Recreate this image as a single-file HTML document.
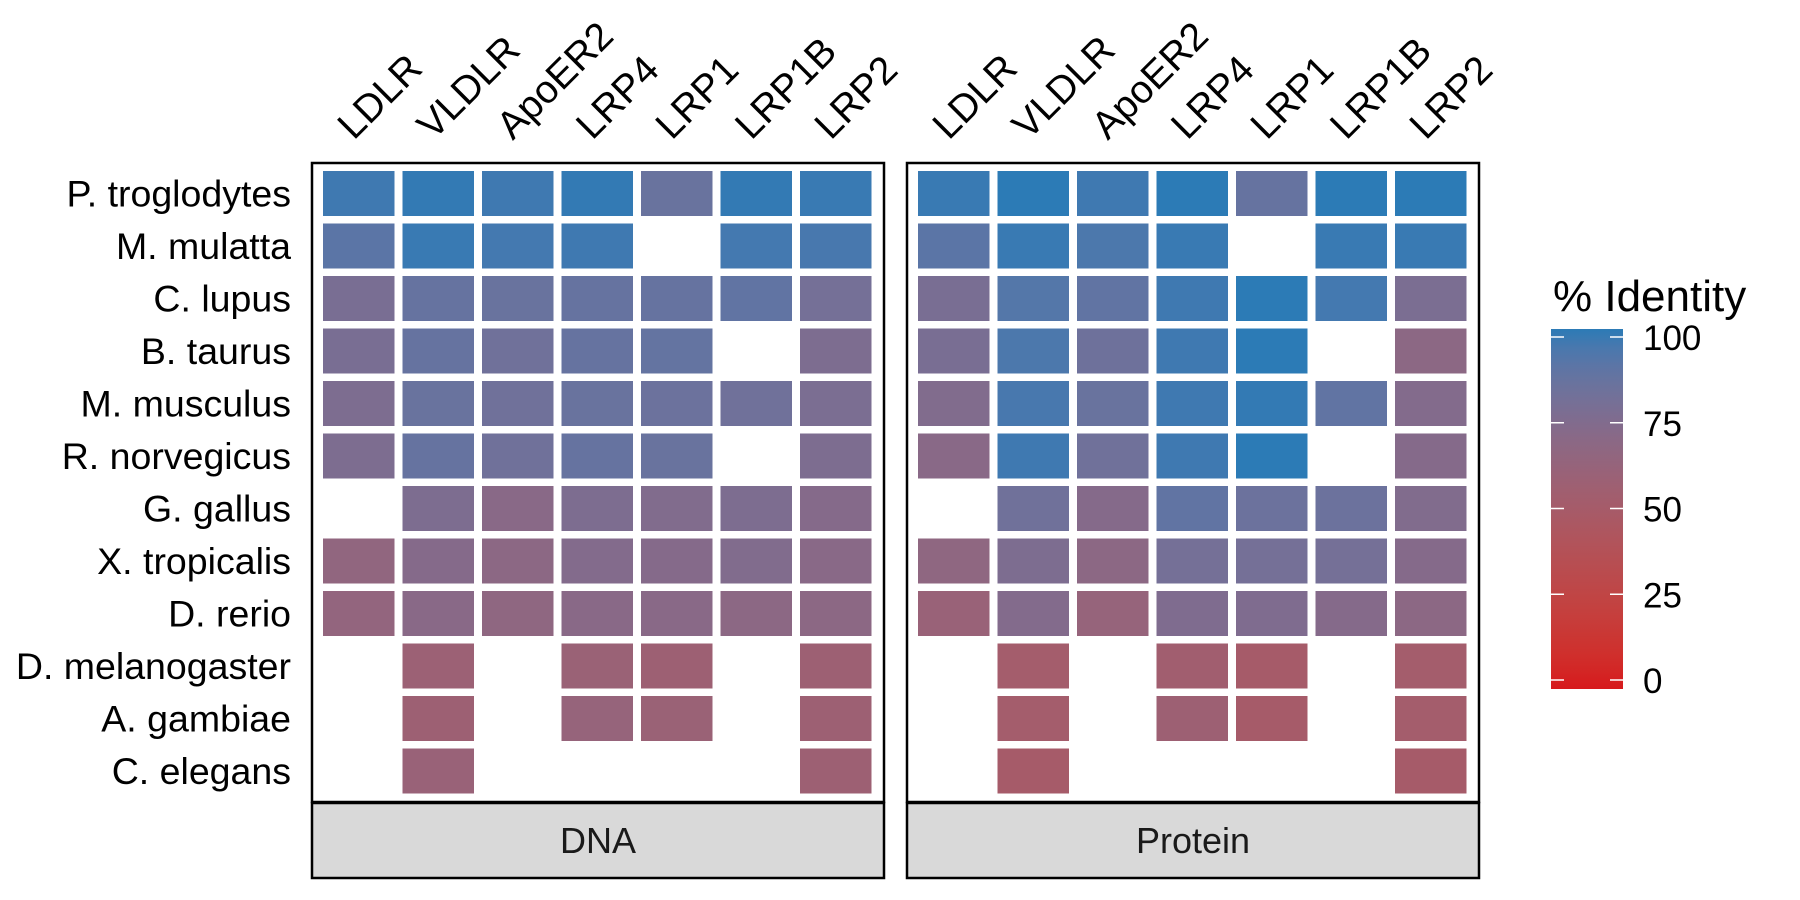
<!DOCTYPE html>
<html><head><meta charset="utf-8"><style>
html,body{margin:0;padding:0;background:#fff;}
svg{display:block;font-family:"Liberation Sans",sans-serif;}
</style></head><body>
<svg id="chart" width="1800" height="900" viewBox="0 0 1800 900" xmlns="http://www.w3.org/2000/svg">
<defs>
<linearGradient id="cbgrad" x1="0" y1="1" x2="0" y2="0"></linearGradient>
</defs>
<g id="panels"></g>
<g id="legend"></g>
</svg>
<script>
const species = ["P. troglodytes","M. mulatta","C. lupus","B. taurus","M. musculus","R. norvegicus","G. gallus","X. tropicalis","D. rerio","D. melanogaster","A. gambiae","C. elegans"];
const genes = ["LDLR","VLDLR","ApoER2","LRP4","LRP1","LRP1B","LRP2"];
const facets = ["DNA","Protein"];
const N = null;
const dnaValues = [
 [97,99,97,99,85,99,98],
 [90,98,96,97,N,96,95],
 [78,86,85,86,86,88,80],
 [78,86,82,86,87,N,76],
 [76,85,82,85,84,82,77],
 [76,86,82,86,85,N,76],
 [N,76,70,76,74,76,72],
 [65,72,68,73,72,74,70],
 [64,70,66,70,70,68,68],
 [N,58,N,59,57,N,57],
 [N,57,N,62,59,N,57],
 [N,60,N,N,N,N,57]
];
const proteinValues = [
 [98,100,97,100,86,100,100],
 [90,98,94,98,N,98,98],
 [78,92,88,97,100,96,77],
 [78,94,83,97,100,N,68],
 [74,95,85,97,99,88,73],
 [70,97,82,97,100,N,72],
 [N,82,72,88,84,84,74],
 [66,76,68,80,80,80,72],
 [60,73,62,75,75,72,68],
 [N,52,N,54,50,N,52],
 [N,52,N,57,50,N,52],
 [N,50,N,N,N,N,50]
];
const legendTicks = [0,25,50,75,100];

const NS="http://www.w3.org/2000/svg";
function mk(tag,attrs,parent){const e=document.createElementNS(NS,tag);for(const k in attrs)e.setAttribute(k,attrs[k]);if(parent)parent.appendChild(e);return e;}

function toLin(c){c/=255;return c<=0.04045?c/12.92:Math.pow((c+0.055)/1.055,2.4);}
function fromLin(c){c=c<=0.0031308?12.92*c:1.055*Math.pow(c,1/2.4)-0.055;return Math.max(0,Math.min(255,Math.round(c*255)));}
function rgb2lab(r,g,b){r=toLin(r);g=toLin(g);b=toLin(b);
 let x=(0.4124*r+0.3576*g+0.1805*b)/0.95047,y=(0.2126*r+0.7152*g+0.0722*b),z=(0.0193*r+0.1192*g+0.9505*b)/1.08883;
 const f=t=>t>0.008856?Math.cbrt(t):7.787*t+16/116;x=f(x);y=f(y);z=f(z);
 return [116*y-16,500*(x-y),200*(y-z)];}
function lab2rgb(L,a,b){let y=(L+16)/116,x=a/500+y,z=y-b/200;
 const fi=t=>t*t*t>0.008856?t*t*t:(t-16/116)/7.787;x=fi(x)*0.95047;y=fi(y);z=fi(z)*1.08883;
 const r=3.2406*x-1.5372*y-0.4986*z,g=-0.9689*x+1.8758*y+0.0415*z,bb=0.0557*x-0.2040*y+1.0570*z;
 return [fromLin(r),fromLin(g),fromLin(bb)];}
const LOW=rgb2lab(215,25,28), HIGH=rgb2lab(44,123,182);
function color(v){const t=Math.max(0,Math.min(1,v/100));const c=lab2rgb(LOW[0]+(HIGH[0]-LOW[0])*t,LOW[1]+(HIGH[1]-LOW[1])*t,LOW[2]+(HIGH[2]-LOW[2])*t);return `rgb(${c[0]},${c[1]},${c[2]})`;}

const panelX=[312,907], panelW=572, panelTop=163, panelBot=802, stripBot=878;
const colPitch=79.5, colOff=11, tileW=71.5, rowPitch=52.5, rowOff=8, tileH=45;
function xScale(p,i){return panelX[p]+colOff+i*colPitch;}
function yScale(j){return panelTop+rowOff+j*rowPitch;}

const panels=document.getElementById('panels');
const data=[dnaValues,proteinValues];
facets.forEach((f,p)=>{
 const g=mk('g',{},panels);
 
 
 data[p].forEach((row,j)=>row.forEach((v,i)=>{
  if(v===null)return;
  const r=mk('rect',{x:xScale(p,i),y:yScale(j),width:tileW,height:tileH,fill:color(v)},g);
  
  
 }));
 const b=mk('rect',{x:panelX[p],y:panelTop,width:panelW,height:panelBot-panelTop,fill:'none',stroke:'#000','stroke-width':2.5},g);
 
 
 const s=mk('rect',{x:panelX[p],y:panelBot+1,width:panelW,height:stripBot-panelBot-1,fill:'#d9d9d9',stroke:'#000','stroke-width':2.5},g);
 
 
 const st=mk('text',{x:panelX[p]+panelW/2,y:853,'text-anchor':'middle','font-size':36,fill:'#1a1a1a'},g);
 st.textContent=f;
 
 
 genes.forEach((gn,i)=>{
  const cx=xScale(p,i)+tileW/2-5, cy=141;
  const t=mk('text',{x:cx,y:cy,'text-anchor':'start','font-size':39,fill:'#000',transform:`rotate(-45 ${cx} ${cy})`},g);
  t.textContent=gn;
  
  
 });
});
species.forEach((s,j)=>{
 const t=mk('text',{x:291,y:yScale(j)+tileH/2+13,'text-anchor':'end','font-size':37.5,fill:'#000'},panels);
 t.textContent=s;
 
 
});

const grad=document.getElementById('cbgrad');
for(let k=0;k<=20;k++){mk('stop',{offset:(k/20),'stop-color':color(k*5)},grad);}
const lg=document.getElementById('legend');
const barX=1551,barW=72,barTop=329,barBot=689;
function lScale(v){return 680-v*(680-337)/100;}
const title=mk('text',{x:1553,y:311,'font-size':44,fill:'#000'},lg);
title.textContent='% Identity';


const bar=mk('rect',{x:barX,y:barTop,width:barW,height:barBot-barTop,fill:'url(#cbgrad)'},lg);


legendTicks.forEach(v=>{
 const y=lScale(v);
 mk('line',{x1:barX,x2:barX+13,y1:y,y2:y,stroke:'#fff','stroke-width':1.5},lg);
 mk('line',{x1:barX+barW-13,x2:barX+barW,y1:y,y2:y,stroke:'#fff','stroke-width':1.5},lg);
 const t=mk('text',{x:1643,y:y+13,'font-size':35,fill:'#000'},lg);
 t.textContent=String(v);
 
 
});
</script>
</body></html>
